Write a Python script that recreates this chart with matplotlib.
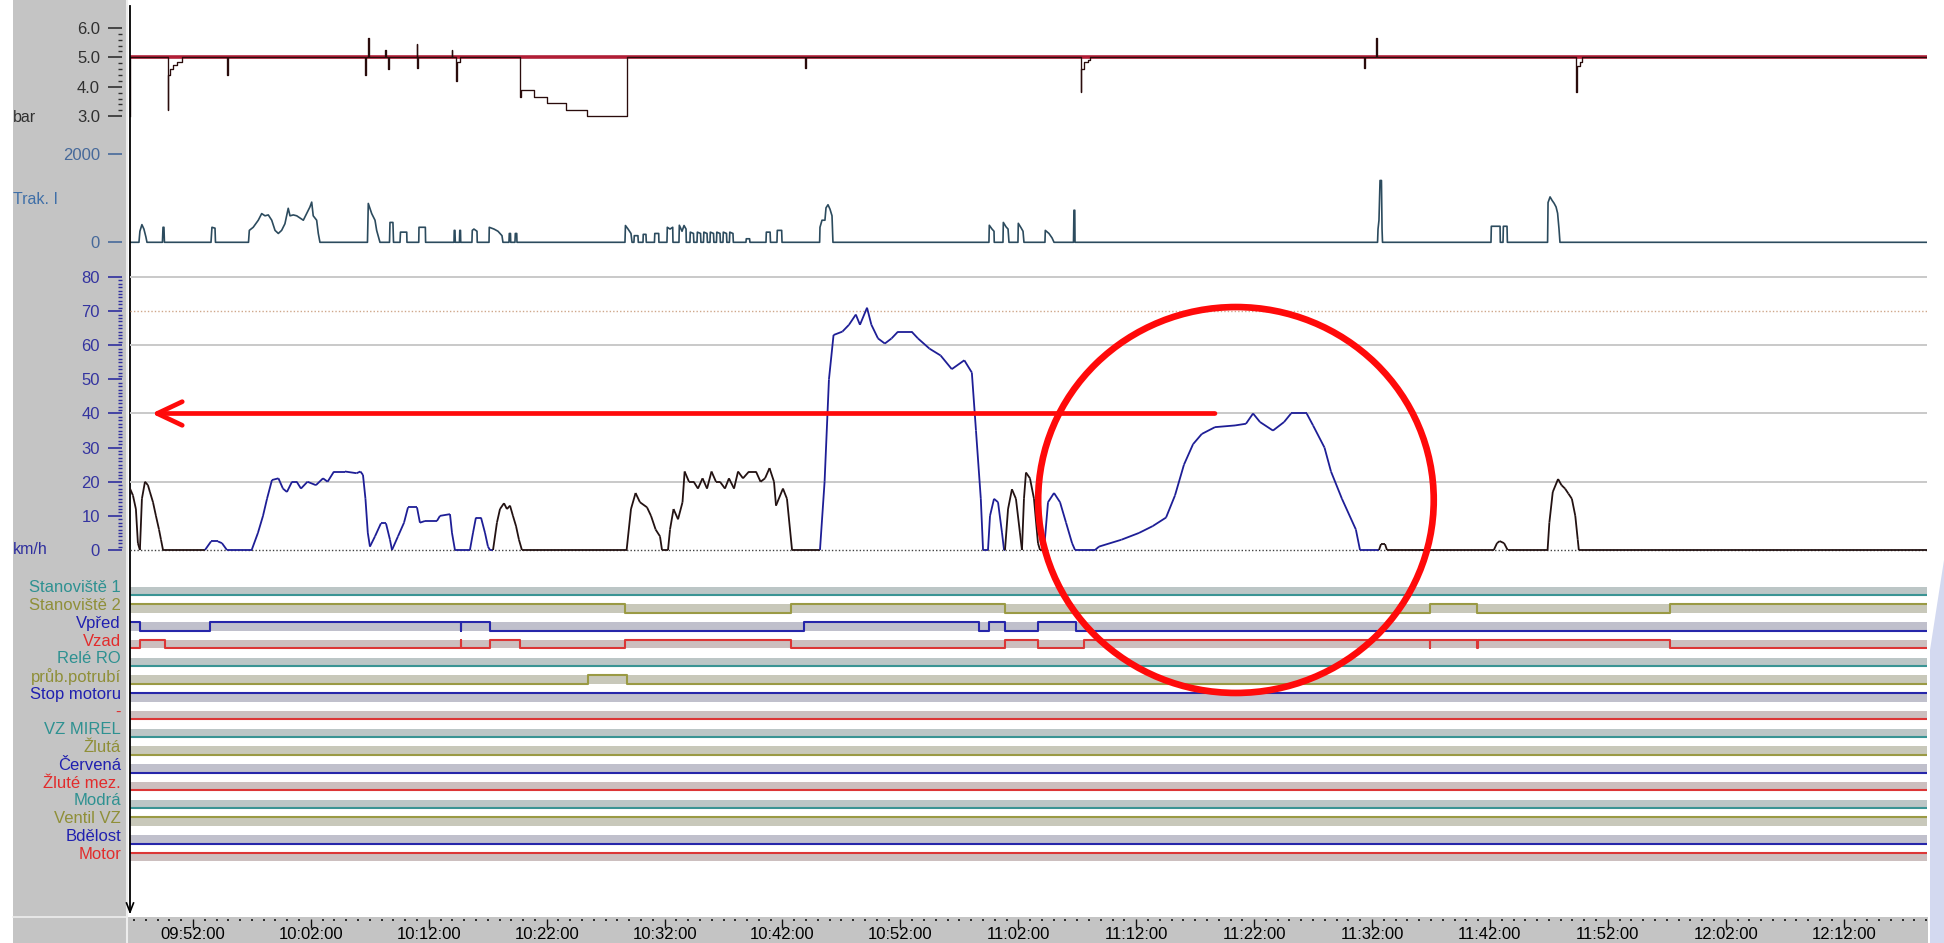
import matplotlib
matplotlib.use("Agg")
import matplotlib.pyplot as plt
import matplotlib.transforms as mtransforms
from matplotlib.collections import LineCollection
from matplotlib.patches import Rectangle, Ellipse, Polygon
from matplotlib.lines import Line2D
from matplotlib.ticker import FixedLocator, MultipleLocator, FuncFormatter
import numpy as np

plt.rcParams['font.family'] = ['Liberation Sans', 'DejaVu Sans']

# ---------------- data (time = minutes after 09:00:00) ----------------
T_START, T_END = 46.66, 199.07
time_ticks = list(range(52, 193, 10))

pressure_time = [46.66, 46.70, 49.85, 49.88, 50.05, 50.33, 50.62, 51.04, 54.88, 54.95,
                 66.59, 66.64, 66.84, 66.89, 68.28, 68.33, 68.54, 68.60, 70.96, 71.00,
                 71.02, 71.06, 73.97, 74.01, 74.31, 74.36, 74.65, 79.70, 79.78, 80.92,
                 82.03, 83.64, 85.38, 88.79, 103.91, 103.96, 127.30, 127.36, 127.57,
                 127.91, 128.08, 151.36, 151.41, 152.38, 152.43, 169.34, 169.40, 169.64,
                 169.81, 199.07]
pressure_bar = [3.0, 5.0, 3.22, 4.4, 4.6, 4.75, 4.85, 5.0, 4.4, 5.0,
                4.4, 5.0, 5.65, 5.0, 5.25, 5.0, 4.6, 5.0, 5.46, 5.0,
                4.62, 5.0, 5.26, 5.0, 4.18, 4.84, 5.0, 3.66, 3.88, 3.66,
                3.45, 3.22, 3.0, 5.0, 4.62, 5.0, 3.83, 4.6, 4.85,
                4.92, 5.0, 4.62, 5.0, 5.65, 5.0, 3.83, 4.7, 4.85,
                5.0, 5.0]
pressure_ref_bar = 5.0

current_time = [46.66, 47.42, 47.50, 47.67, 47.84, 48.01, 48.10, 49.41, 49.46, 49.54, 49.58,
                53.53, 53.61, 53.87, 53.91, 56.71, 56.78, 57.11, 57.54, 57.83, 58.11, 58.39,
                58.68, 58.96, 59.24, 59.52, 59.80, 60.08, 60.23, 60.51, 60.80, 61.36, 61.64,
                61.92, 62.07, 62.20, 62.49, 62.63, 62.77, 66.80, 66.87, 67.16, 67.44, 67.58,
                67.86, 68.67, 68.71, 68.96, 69.01, 69.56, 69.60, 70.13, 70.15, 71.15, 71.17,
                71.71, 71.73, 74.14, 74.16, 74.22, 74.25, 74.60, 74.63, 74.69, 74.71, 75.66,
                75.69, 75.83, 76.09, 76.11, 77.11, 77.13, 77.53, 77.87, 78.21, 78.29, 78.80,
                78.83, 78.93, 78.95, 79.31, 79.34, 79.46, 79.48, 88.64, 88.68, 88.90, 89.15,
                89.24, 89.40, 89.43, 89.74, 89.77, 90.17, 90.19, 90.42, 90.45, 91.14, 91.17,
                91.50, 91.52, 92.20, 92.23, 92.46, 92.69, 92.71, 93.22, 93.25, 93.48, 93.65,
                93.82, 93.84,
                94.15, 94.18, 94.45, 94.48, 94.75, 94.78, 95.05, 95.08, 95.30, 95.33, 95.60,
                95.63, 95.85, 95.88, 96.15, 96.18, 96.40, 96.43, 96.70, 96.73, 96.95, 96.98,
                97.25, 97.28, 97.50, 97.53, 97.80, 97.83,
                98.90, 98.93, 99.21, 99.24, 100.60, 100.63, 100.95, 100.98, 101.53, 101.56,
                101.93, 101.96, 105.15, 105.18, 105.35, 105.60, 105.69, 105.86, 106.03,
                106.20, 106.28, 119.51, 119.54, 119.77, 119.94, 119.96, 120.70, 120.73,
                120.96, 121.13, 121.21, 121.97, 122.00, 122.23, 122.40, 122.48, 124.26,
                124.29, 124.60, 124.86, 125.03, 126.68, 126.72, 126.79, 126.81, 152.47,
                152.51, 152.59, 152.68, 152.80, 152.85, 152.89, 162.09, 162.12, 162.86,
                162.88, 163.11, 163.14, 163.45, 163.48, 166.89, 166.93, 167.10, 167.27,
                167.44, 167.61, 167.74, 167.86, 167.94, 199.07]
current_amp = [0, 0, 250, 400, 300, 120, 0, 0, 340, 340, 0,
               0, 340, 320, 0, 0, 270, 340, 500, 650, 600, 620,
               500, 270, 200, 270, 420, 770, 600, 620, 600, 500, 650,
               800, 910, 600, 500, 200, 0, 0, 880, 650, 500, 270,
               0, 0, 450, 450, 0, 0, 230, 230, 0, 0, 340,
               340, 0, 0, 270, 270, 0, 0, 270, 270, 0, 0,
               270, 300, 250, 0, 0, 340, 300, 250, 150, 0, 0,
               200, 200, 0, 0, 200, 200, 0, 0, 380, 300, 200,
               0, 0, 150, 150, 0, 0, 180, 180, 0, 0, 200,
               200, 0, 0, 340, 300, 340, 0, 0, 386, 250, 380,
               300, 0,
               0, 230, 200, 0, 0, 230, 200, 0, 0, 230, 200,
               0, 0, 230, 200, 0, 0, 230, 200, 0, 0, 230,
               200, 0, 0, 230, 200, 0,
               0, 80, 80, 0, 0, 230, 230, 0, 0, 270,
               270, 0, 0, 340, 500, 500, 780, 850, 750,
               600, 0, 0, 386, 300, 250, 0, 0, 450,
               350, 300, 0, 0, 430, 330, 250, 0, 0,
               270, 200, 100, 0, 0, 726, 726, 0, 0,
               300, 500, 1400, 1400, 300, 0, 0, 363, 363,
               0, 0, 363, 363, 0, 0, 900, 1028, 950,
               885, 800, 658, 300, 0, 0]

speed_time = [46.66, 46.91, 47.16, 47.33, 47.50, 47.67, 47.93, 48.18, 48.35, 48.61, 48.86,
              49.12, 49.29, 49.46, 53.02, 53.53, 54.12, 54.46, 54.88, 56.98, 57.51, 57.94,
              58.28, 58.70, 59.25, 59.63, 59.97, 60.40, 60.80, 61.16, 61.71, 62.43, 63.03,
              63.42, 63.96, 64.89, 65.88, 66.20, 66.42, 66.63, 66.83, 67.01, 67.44, 67.94,
              68.37, 68.71, 68.88, 69.39, 69.90, 70.24, 71.00, 71.25, 71.68, 72.69, 72.95,
              73.80, 73.97, 74.22, 75.49, 75.75, 76.00, 76.43, 76.77, 77.02, 77.19, 77.45,
              77.78, 78.04, 78.38, 78.63, 78.89, 79.14, 79.40, 79.65, 79.90, 88.78, 89.15,
              89.54, 89.91, 90.51, 90.85, 91.24, 91.61, 91.78, 92.29, 92.46, 92.76, 93.14,
              93.52, 93.70, 94.07, 94.47, 94.83, 95.22, 95.60, 95.98, 96.36, 96.70, 97.12,
              97.46, 97.89, 98.23, 98.65, 99.16, 99.75, 100.14, 100.52, 100.90, 101.28,
              101.45, 102.04, 102.38, 102.81, 105.18, 105.57, 105.94, 106.33, 107.08,
              107.64, 108.22, 108.57, 109.17, 109.54, 110.10, 110.68, 111.25, 111.80,
              112.95, 113.49, 114.47, 115.41, 116.36, 117.42, 118.06, 118.41, 118.82,
              119.01, 119.43, 119.60, 119.94, 120.28, 120.62, 120.79, 120.87, 121.13,
              121.46, 121.80, 122.14, 122.31, 122.48, 122.65, 122.99, 123.33, 123.67,
              123.84, 124.18, 124.52, 125.03, 125.54, 126.05, 126.56, 126.81, 128.51,
              128.85, 130.74, 132.24, 133.40, 134.53, 135.29, 136.05, 136.82, 137.56,
              138.68, 140.38, 141.31, 141.91, 142.50, 143.60, 144.54, 145.13, 146.46,
              147.00, 147.97, 148.52, 149.45, 150.63, 150.98, 152.59, 152.76, 153.10,
              153.27, 162.33, 162.60, 162.83, 163.20, 163.50, 166.89, 167.04, 167.33,
              167.78, 168.07, 168.37, 168.66, 168.95, 169.24, 169.45, 169.54, 199.07]
speed_kmh = [18, 16, 12, 2, 0, 15, 20, 19, 17, 14, 10,
             6, 3, 0, 0, 2.5, 2.5, 2, 0, 0, 5, 10,
             15, 20.5, 21, 18, 17, 20, 20, 18, 20, 19, 21,
             20, 23, 23, 22.5, 23, 22, 15, 5, 1, 4, 7.8,
             7.8, 3, 0, 4, 8, 12.5, 12.5, 8, 8.5, 8.5, 10,
             10.5, 5, 0, 0, 5, 9.5, 9.5, 5, 1, 0, 0,
             8, 12, 13.7, 12, 13, 10, 7, 3, 0, 0, 12,
             16.7, 14, 12.5, 10, 6, 4, 0, 0, 6, 12, 9,
             14, 23, 20, 20, 18, 21, 18, 23, 20, 20, 18,
             21, 18, 23, 21, 23, 23, 20, 21, 24, 20,
             13, 18, 15, 0, 0, 20, 50, 63, 64,
             66, 69, 66, 71, 66, 62, 60.5, 62, 64,
             64, 62, 59, 57, 53, 55.6, 52, 35, 15,
             0, 0, 10, 15, 14, 5, 0, 0, 12,
             17.8, 15, 5, 0, 15, 22.7, 21, 15, 2,
             0, 0, 14, 16.7, 14, 8, 2, 0, 0,
             1, 3, 5, 7, 9.5, 16, 25, 31, 34,
             36, 36.5, 37, 40, 37.5, 35, 37.5, 40, 40,
             36.5, 30, 23, 15, 6, 0, 0, 1.7, 1.7,
             0, 0, 2, 2.6, 2, 0, 0, 8, 17,
             20.8, 19, 18, 16.5, 15, 10, 3, 0, 0]
direction_change_time = [46.66, 52.5, 77.3, 104.0, 120.83, 124.0, 152.0]
direction_code = ['B', 'F', 'B', 'F', 'B', 'F', 'B']

lane_names = ['Stanoviště 1', 'Stanoviště 2', 'Vpřed', 'Vzad', 'Relé RO', 'průb.potrubí',
              'Stop motoru', '-', 'VZ MIREL', 'Žlutá', 'Červená', 'Žluté mez.',
              'Modrá', 'Ventil VZ', 'Bdělost', 'Motor']
lane_constant_state = [0, None, None, None, 0, None, 1, 0, 0, 0, 0, 0, 0, 1, 0, 1]
stan2_time = [46.66, 88.64, 102.72, 120.87, 156.92, 160.91, 177.28]
stan2_state = [1, 0, 1, 0, 1, 0, 1]
vpred_time = [46.66, 47.50, 53.44, 74.72, 74.76, 77.19, 103.82, 118.67, 119.51, 120.87, 123.67, 126.89]
vpred_state = [1, 0, 1, 0, 1, 0, 1, 0, 1, 0, 1, 0]
vzad_time = [46.66, 47.50, 49.62, 74.72, 74.76, 77.19, 79.74, 88.64, 102.72, 120.87, 123.67,
             127.57, 156.90, 156.96, 160.89, 160.95, 177.28]
vzad_state = [0, 1, 0, 1, 0, 1, 0, 1, 0, 1, 0, 1, 0, 1, 0, 1, 0]
prub_time = [46.66, 85.50, 88.81]
prub_state = [0, 1, 0]

# ---------------- figure ----------------
W, H, DPI = 1944, 943, 100
fig = plt.figure(figsize=(W / DPI, H / DPI), dpi=DPI)
fig.patch.set_facecolor('white')
X0, X1 = 130, 1927


def box(x0, y0, x1, y1):
    return [x0 / W, 1 - y1 / H, (x1 - x0) / W, (y1 - y0) / H]


def fx(px):
    return px / W


def fy(py):
    return 1 - py / H


PANEL = '#C4C4C4'
fig.patches.append(Rectangle((fx(13), fy(917)), 114 / W, 917 / H, transform=fig.transFigure,
                             fc=PANEL, ec='none', zorder=-10))
fig.patches.append(Rectangle((fx(13), 0), (1928 - 13) / W, 26 / H, transform=fig.transFigure,
                             fc=PANEL, ec='none', zorder=-10))
fig.patches.append(Polygon([(fx(1944), fy(560)), (fx(1930), fy(650)), (fx(1930), 0), (fx(1944), 0)],
                           closed=True, transform=fig.transFigure, fc='#D3D9F0', ec='none', zorder=-10))
fig.add_artist(Line2D([fx(13), fx(127)], [fy(917), fy(917)], color='#EEEEEE', lw=1.2,
                      transform=fig.transFigure))
fig.add_artist(Line2D([fx(127), fx(127)], [fy(0), fy(943)], color='#EDEDED', lw=1.5,
                      transform=fig.transFigure))

TXT = 12


def base_axes(rect):
    ax = fig.add_axes(rect)
    ax.set_facecolor('none')
    for s in ax.spines.values():
        s.set_visible(False)
    ax.set_xlim(T_START, T_END)
    ax.set_xticks([])
    ax.spines['left'].set_position(('outward', 5.8))
    return ax


# ---- pressure ----
ax_p = base_axes(box(X0, 0, X1, 150))
ax_p.set_ylim(1.852, 6.946)
ax_p.axhline(pressure_ref_bar, color='#B01E36', lw=2.6, zorder=2)
ax_p.step(pressure_time, pressure_bar, where='post', color='#2A0C0C', lw=0.95, zorder=3)
ax_p.yaxis.set_major_locator(FixedLocator([3, 4, 5, 6]))
ax_p.yaxis.set_major_formatter(FuncFormatter(lambda v, p: f'{v:.1f}'))
ax_p.yaxis.set_minor_locator(FixedLocator(np.round(np.arange(3.0, 6.01, 0.2), 2)))
ax_p.tick_params(axis='y', which='major', length=10, width=1.2, color='#303030',
                 labelsize=TXT, labelcolor='#303030', pad=5.8)
ax_p.tick_params(axis='y', which='minor', length=3, width=1.0, color='#303030')
fig.text(fx(13), fy(117), 'bar', ha='left', va='center', fontsize=11.5, color='#303030')

# ---- traction current ----
ax_c = base_axes(box(X0, 150, X1, 265))
ax_c.set_ylim(-514, 2090)
ax_c.plot(current_time, current_amp, color='#2C4B5E', lw=1.2)
ax_c.yaxis.set_major_locator(FixedLocator([0, 2000]))
ax_c.tick_params(axis='y', which='major', length=10, width=1.2, color='#46699A',
                 labelsize=TXT, labelcolor='#46699A', pad=5.8)
fig.text(fx(13), fy(200), 'Trak. I', ha='left', va='center', fontsize=11.5, color='#3F6FA8')

# ---- speed ----
ax_s = base_axes(box(X0, 265, X1, 565))
ax_s.set_zorder(5)
ax_s.set_ylim(-4.40, 83.52)
for g in (20, 40, 60, 80):
    ax_s.axhline(g, color='#C9C9C9', lw=1.4, zorder=1)
ax_s.axhline(70, color='#CFA78A', lw=1.0, ls=(0, (1, 1.5)), zorder=1)
ax_s.axhline(0, color='#404040', lw=1.0, ls=(0, (1, 1.5)), zorder=1)

dir_color = {'F': '#1E1E96', 'B': '#231212'}
st = np.array(speed_time)
sv = np.array(speed_kmh)
idx = np.searchsorted(direction_change_time, st[:-1], side='right') - 1
seg_cols = [dir_color[direction_code[max(i, 0)]] for i in idx]
segs = np.stack([np.column_stack([st[:-1], sv[:-1]]), np.column_stack([st[1:], sv[1:]])], axis=1)
ax_s.add_collection(LineCollection(segs, colors=seg_cols, linewidths=1.3, zorder=3))

ax_s.yaxis.set_major_locator(FixedLocator(list(range(0, 81, 10))))
ax_s.yaxis.set_minor_locator(FixedLocator(list(range(0, 81, 1))))
ax_s.tick_params(axis='y', which='major', length=10, width=1.2, color='#2E2E9E',
                 labelsize=TXT, labelcolor='#3434A0', pad=5.8)
ax_s.tick_params(axis='y', which='minor', length=3, width=1.0, color='#2E2E9E')
fig.text(fx(13), fy(550), 'km/h', ha='left', va='center', fontsize=11.5, color='#2E2E9E')

# annotations (red arrow at 40 km/h and ellipse)
ax_s.annotate('', xy=(48.5, 40), xytext=(138.68, 40),
              arrowprops=dict(arrowstyle='->,head_length=1.8,head_width=0.85', color='#FF0A0A',
                              lw=3.4, shrinkA=0, shrinkB=0, mutation_scale=10),
              annotation_clip=False, zorder=20)
ax_s.add_patch(Ellipse((140.46, 14.65), width=33.55, height=113.1, fill=False,
                       ec='#FF0A0A', lw=4.8, clip_on=False, zorder=20))

# ---- signal lanes ----
ax_l = base_axes(box(X0, 575, X1, 880))
ax_l.set_ylim(-16.056, 1.127)
ax_l.set_yticks([])
BAND = 0.479
lane_line_cols = ['#3A9494', '#9A9A44', '#2626AA', '#DC3636']
lane_text_cols = ['#2E9191', '#8F8F38', '#2020B0', '#E22C2C']
lane_band_cols = ['#BCC6C6', '#C8C8BA', '#C0C0CC', '#CCBFBF']
variable = {1: (stan2_time, stan2_state), 2: (vpred_time, vpred_state),
            3: (vzad_time, vzad_state), 5: (prub_time, prub_state)}
trans_lab = mtransforms.blended_transform_factory(fig.transFigure, ax_l.transData)
for i, name in enumerate(lane_names):
    low = -i
    c = i % 4
    ax_l.axhspan(low, low + BAND, color=lane_band_cols[c], lw=0, zorder=1)
    if lane_constant_state[i] is not None:
        tt = [T_START, T_END]
        ss = [lane_constant_state[i]] * 2
    else:
        tt = list(variable[i][0]) + [T_END]
        ss = list(variable[i][1]) + [variable[i][1][-1]]
    ax_l.step(tt, [low + BAND * s for s in ss], where='post', color=lane_line_cols[c],
              lw=1.5, zorder=3)
    ax_l.text(fx(121), low + 0.40, name, transform=trans_lab, ha='right', va='center',
              fontsize=TXT, color=lane_text_cols[c])

# ---- time axis ----
ax_t = base_axes(box(X0, 880, X1, 919))
ax_t.set_yticks([])
ax_t.xaxis.set_major_locator(FixedLocator(time_ticks))
ax_t.xaxis.set_minor_locator(MultipleLocator(1))
ax_t.xaxis.set_major_formatter(FuncFormatter(
    lambda t, p: f'{9 + int(round(t)) // 60:02d}:{int(round(t)) % 60:02d}:00'))
ax_t.tick_params(axis='x', which='major', length=6.5, width=1.0, color='#101010',
                 labelsize=TXT, pad=-0.5)
ax_t.tick_params(axis='x', which='minor', length=1.5, width=1.3, color='#202020')

# cursor line with arrow
fig.add_artist(Line2D([fx(130), fx(130)], [fy(6), fy(912)], color='black', lw=1.3,
                      transform=fig.transFigure))
fig.add_artist(Line2D([fx(126.5), fx(130), fx(133.5)], [fy(903), fy(912), fy(903)],
                      color='black', lw=1.2, transform=fig.transFigure))

fig.savefig('out.png', dpi=DPI, facecolor='white')
